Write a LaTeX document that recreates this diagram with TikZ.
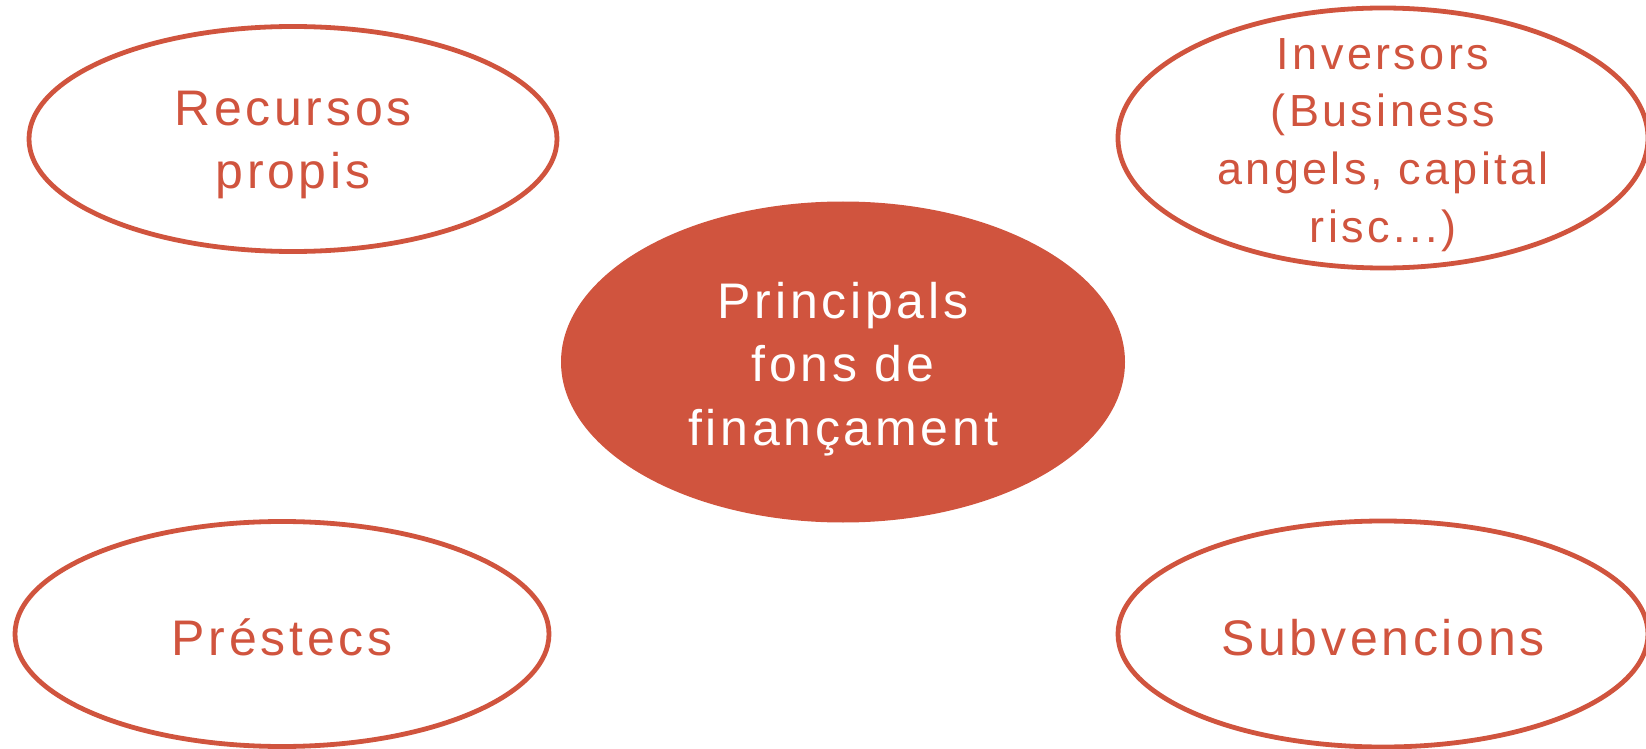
\documentclass[tikz,border=0pt]{standalone}
\usepackage{fontspec}
\setmainfont{Liberation Sans}[LetterSpace=7.5]
\definecolor{rust1}{RGB}{208, 84, 62}
\usepackage{tikz}
\usetikzlibrary{shapes.geometric, positioning}

\begin{document}
\begin{tikzpicture}[x=0.5pt, y=-0.5pt,
    oval/.style={ellipse, draw=rust1, line width=2.4pt, inner sep=0pt},
    hub/.style={ellipse, fill=rust1, inner sep=0pt},
    lbl/.style={align=center, text=rust1, font=\fontsize{25}{31.75}\selectfont, inner sep=0pt}]
  \useasboundingbox (0,0) rectangle (1646,749);
  % centre
  \node[hub, minimum width=282pt, minimum height=160.5pt] (fons) at (843,362) {};
  \node[lbl, text=white] (fonstext) at (843,369) {Principals\\fons de\\finançament};
  % top row
  \node[oval, minimum width=264pt, minimum height=112.5pt] (recursos) at (293,139) {};
  \node[lbl] (recursostext) at (293,145) {Recursos\\propis};
  \node[oval, minimum width=265pt, minimum height=130pt] (inversors) at (1383,138) {};
  \node[lbl, font=\fontsize{22.5}{28.85}\selectfont] (inversorstext) at (1383,145)
    {Inversors\\(Business\\angels, capital\\risc...)};
  % bottom row
  \node[oval, minimum width=267pt, minimum height=112.5pt] (prestecs) at (282,634) {};
  \node[lbl] (prestecstext) at (282,637) {Préstecs};
  \node[oval, minimum width=265pt, minimum height=113pt] (subvencions) at (1383,634) {};
  \node[lbl] (subvencionstext) at (1383,638) {Subvencions};
\end{tikzpicture}
\end{document}
